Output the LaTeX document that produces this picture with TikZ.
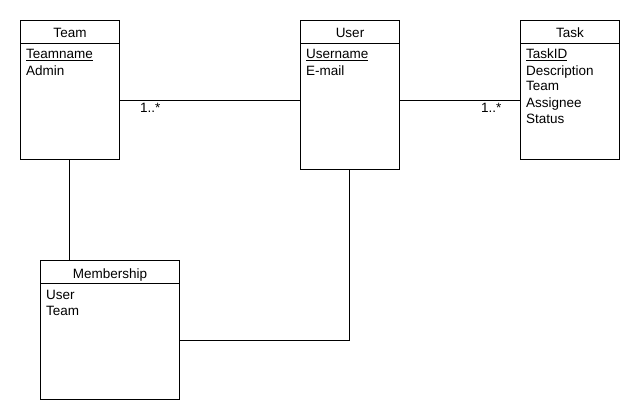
\documentclass[tikz,border=0pt]{standalone}
\usepackage{fontspec}
\setmainfont{Liberation Sans}
\usetikzlibrary{calc}
\begin{document}
\begin{tikzpicture}[x=1pt,y=-1pt,
  box/.style={draw, line width=0.8pt, rectangle, inner sep=0pt, outer sep=0pt, anchor=north west},
  txt/.style={font=\fontsize{13.5}{16}\selectfont, inner sep=0pt},
  ttl/.style={txt, anchor=base},
  attr/.style={txt, anchor=base west},
  sep/.style={line width=0.8pt},
  conn/.style={line width=0.8pt}]
\useasboundingbox[fill=white] (0,0) rectangle (640,420);

% boxes
\node[box, minimum width=99pt, minimum height=139pt] (team) at (20,20) {};
\node[box, minimum width=99pt, minimum height=149pt] (user) at (300,20) {};
\node[box, minimum width=99pt, minimum height=139pt] (task) at (520,20) {};
\node[box, minimum width=139pt, minimum height=139pt] (memb) at (40,260) {};

% header separators
\foreach \b in {team,user,task,memb}
  \draw[sep] ([yshift=-23pt]\b.north west) -- ([yshift=-23pt]\b.north east);

% titles
\node[ttl] (team-t) at (70,38) {Team};
\node[ttl] (user-t) at (350,38) {User};
\node[ttl] (task-t) at (570,38) {Task};
\node[ttl] (memb-t) at (110,278) {Membership};

% attributes
\node[attr] (team-a1) at (26,59) {\underline{Teamname}};
\node[attr] (team-a2) at (26,75) {Admin};

\node[attr] (user-a1) at (306,59) {\underline{Username}};
\node[attr] (user-a2) at (306,75) {E-mail};

\node[attr] (task-a1) at (526,59) {\underline{TaskID}};
\node[attr] (task-a2) at (526,75) {Description};
\node[attr] (task-a3) at (526,91) {Team};
\node[attr] (task-a4) at (526,107) {Assignee};
\node[attr] (task-a5) at (526,123) {Status};

\node[attr] (memb-a1) at (46,299) {User};
\node[attr] (memb-a2) at (46,315) {Team};

% connectors
\draw[conn] ([yshift=-80pt]team.north east) coordinate (c1) -- (c1 -| user.west);
\draw[conn] ([yshift=-80pt]user.north east) coordinate (c2) -- (c2 -| task.west);
\draw[conn] (team.south) -- (team.south |- memb.north);
\draw[conn] (user.south) -- ([yshift=-171pt]user.south) coordinate (c3) -- (c3 -| memb.east);

% multiplicities
\node[attr] (m1) at (140,112) {1..*};
\node[attr] (m2) at (481,112) {1..*};
\end{tikzpicture}
\end{document}
